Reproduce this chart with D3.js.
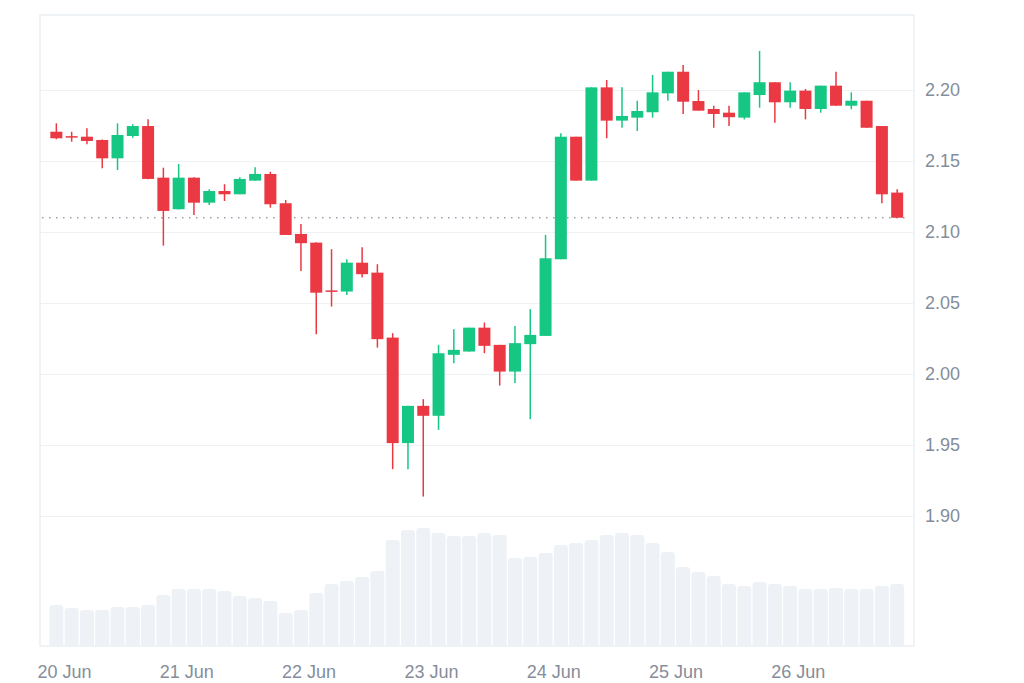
<!DOCTYPE html>
<html>
<head>
<meta charset="utf-8">
<script src="https://cdn.jsdelivr.net/npm/d3@7"></script>
<style>
    body { margin: 0; background: #ffffff; }
    #chart { width: 1024px; height: 683px; }
    text { font-family: "Liberation Sans", Arial, sans-serif; }
</style>
</head>
<body>
<div id="chart"></div>
<script>
// 3h candles, first one 19 Jun 22:30 UTC
var firstCandle = Date.UTC(2024, 5, 19, 22, 30);
var stepHours = 3;

var opens = [2.1703, 2.1672, 2.1668, 2.1645, 2.1516, 2.1673, 2.1743, 2.1380, 2.1158, 2.1380,
    2.1204, 2.1286, 2.1263, 2.1359, 2.1406, 2.1200, 2.0984, 2.0923, 2.0587, 2.0579,
    2.0782, 2.0712, 2.0255, 1.9513, 1.9775, 1.9705, 2.0134, 2.0157, 2.0325, 2.0204,
    2.0016, 2.0209, 2.0267, 2.0806, 2.1668, 2.1359, 2.2015, 2.1781, 2.1802, 2.1840,
    2.1973, 2.2125, 2.1919, 2.1863, 2.1837, 2.1802, 2.1961, 2.2051, 2.1910, 2.1992,
    2.1863, 2.2027, 2.1886, 2.1921, 2.1743, 2.1275];
var highs = [2.1762, 2.1703, 2.1727, 2.1648, 2.1762, 2.1755, 2.1790, 2.1450, 2.1476, 2.1382,
    2.1298, 2.1334, 2.1383, 2.1453, 2.1422, 2.1223, 2.1054, 2.0925, 2.0877, 2.0806,
    2.0891, 2.0771, 2.0286, 1.9775, 1.9822, 2.0204, 2.0314, 2.0325, 2.0361, 2.0204,
    2.0337, 2.0455, 2.0977, 2.1692, 2.1668, 2.2015, 2.2067, 2.2015, 2.1921, 2.2102,
    2.2125, 2.2172, 2.1996, 2.1886, 2.1886, 2.1980, 2.2271, 2.2051, 2.2051, 2.2004,
    2.2027, 2.2125, 2.1980, 2.1921, 2.1743, 2.1298];
var lows = [2.1650, 2.1633, 2.1615, 2.1446, 2.1434, 2.1661, 2.1369, 2.0902, 2.1156, 2.1118,
    2.1188, 2.1216, 2.1263, 2.1359, 2.1169, 2.0977, 2.0724, 2.0279, 2.0473, 2.0555,
    2.0677, 2.0185, 1.9330, 1.9330, 1.9137, 1.9606, 2.0075, 2.0157, 2.0145, 1.9918,
    1.9935, 1.9682, 2.0267, 2.0806, 2.1359, 2.1359, 2.1657, 2.1731, 2.1708, 2.1802,
    2.1921, 2.1828, 2.1851, 2.1731, 2.1743, 2.1790, 2.1872, 2.1767, 2.1872, 2.1790,
    2.1837, 2.1886, 2.1861, 2.1731, 2.1200, 2.1098];
var closes = [2.1657, 2.1665, 2.1638, 2.1516, 2.1680, 2.1743, 2.1371, 2.1146, 2.1380, 2.1204,
    2.1286, 2.1263, 2.1371, 2.1406, 2.1193, 2.0977, 2.0919, 2.0571, 2.0582, 2.0782,
    2.0701, 2.0244, 1.9513, 1.9775, 1.9705, 2.0145, 2.0169, 2.0325, 2.0197, 2.0016,
    2.0216, 2.0274, 2.0813, 2.1668, 2.1359, 2.2015, 2.1781, 2.1814, 2.1849, 2.1980,
    2.2125, 2.1914, 2.1851, 2.1828, 2.1805, 2.1980, 2.2051, 2.1910, 2.1992, 2.1863,
    2.2027, 2.1886, 2.1921, 2.1731, 2.1263, 2.1098];
// объём, условные единицы
var volumes = [41, 38, 36, 36, 39, 39, 41, 51, 57, 57,
    57, 55, 50, 48, 45, 33, 36, 53, 62, 65,
    69, 75, 106, 116, 118, 113, 110, 110, 113, 111,
    88, 89, 93, 101, 103, 106, 111, 113, 111, 103,
    94, 79, 74, 70, 62, 60, 64, 62, 60, 57,
    57, 58, 57, 57, 60, 62];

var priceTicks = [1.90, 1.95, 2.00, 2.05, 2.10, 2.15, 2.20];
var dayTicks = [20, 21, 22, 23, 24, 25, 26];
var dayLabels = ["20 Jun", "21 Jun", "22 Jun", "23 Jun", "24 Jun", "25 Jun", "26 Jun"];

(function () {
    var width = 1024,
        height = 683,
        plotLeft = 40,
        plotRight = 914,
        plotTop = 15,
        plotBottom = 646;

    var UP = "#16c784",
        DOWN = "#ea3943",
        GRID = "#eff2f5",
        TEXT = "#858d9b";

    var candles = opens.map(function (o, i) {
        return {
            t: new Date(firstCandle + i * stepHours * 3600 * 1000),
            o: o, h: highs[i], l: lows[i], c: closes[i], v: volumes[i]
        };
    });

    var x = d3.scaleUtc()
        .domain([new Date(Date.UTC(2024, 5, 20)), new Date(Date.UTC(2024, 5, 27))])
        .range([64, 64 + 7 * 122.3]);

    var y = d3.scaleLinear()
        .domain([1.8086, 2.2524])
        .range([plotBottom, plotTop]);

    var yVol = d3.scaleLinear()
        .domain([0, 118])
        .range([plotBottom, 528]);

    var svg = d3.select("#chart")
        .append("svg")
        .attr("width", width)
        .attr("height", height);

    // сетка
    svg.append("g")
        .selectAll("line")
        .data(priceTicks)
        .enter()
        .append("line")
        .attr("x1", plotLeft)
        .attr("x2", plotRight)
        .attr("y1", function (d) { return Math.round(y(d)) + 0.5; })
        .attr("y2", function (d) { return Math.round(y(d)) + 0.5; })
        .attr("stroke", GRID)
        .attr("stroke-width", 1.2);

    // рамка
    svg.append("rect")
        .attr("x", plotLeft)
        .attr("y", plotTop)
        .attr("width", plotRight - plotLeft)
        .attr("height", plotBottom - plotTop)
        .attr("fill", "none")
        .attr("stroke", "#eceff3")
        .attr("stroke-width", 1.5);

    // объём: столбики со скруглённым верхом
    var volW = 14, r = 3;
    function volPath(d) {
        var x0 = x(d.t) - volW / 2,
            x1 = x0 + volW,
            yt = yVol(d.v),
            p = d3.path();
        p.moveTo(x0, plotBottom);
        p.lineTo(x0, yt + r);
        p.arcTo(x0, yt, x0 + r, yt, r);
        p.lineTo(x1 - r, yt);
        p.arcTo(x1, yt, x1, yt + r, r);
        p.lineTo(x1, plotBottom);
        p.closePath();
        return p.toString();
    }

    svg.append("g")
        .selectAll("path")
        .data(candles)
        .enter()
        .append("path")
        .attr("d", volPath)
        .attr("fill", "#eef1f5");

    // пунктир последней цены
    var last = candles[candles.length - 1];
    svg.append("line")
        .attr("x1", plotLeft + 2)
        .attr("x2", plotRight - 4)
        .attr("y1", y(last.c))
        .attr("y2", y(last.c))
        .attr("stroke", "#9aa1ad")
        .attr("stroke-width", 1.5)
        .attr("stroke-dasharray", "1.5,5.5");

    // свечи
    var bodyW = 12;
    var candle = svg.append("g")
        .selectAll("g")
        .data(candles)
        .enter()
        .append("g")
        .attr("fill", function (d) { return d.c >= d.o ? UP : DOWN; })
        .attr("stroke", function (d) { return d.c >= d.o ? UP : DOWN; });

    candle.append("line")
        .attr("x1", function (d) { return x(d.t); })
        .attr("x2", function (d) { return x(d.t); })
        .attr("y1", function (d) { return y(d.h); })
        .attr("y2", function (d) { return y(d.l); })
        .attr("stroke-width", 1.5);

    candle.append("rect")
        .attr("x", function (d) { return x(d.t) - bodyW / 2; })
        .attr("width", bodyW)
        .attr("y", function (d) { return y(Math.max(d.o, d.c)); })
        .attr("height", function (d) { return Math.max(1.5, Math.abs(y(d.o) - y(d.c))); })
        .attr("stroke", "none");

    // оси
    var yAxis = svg.append("g")
        .attr("transform", "translate(" + plotRight + ",0)")
        .call(d3.axisRight(y)
            .tickValues(priceTicks)
            .tickSize(0)
            .tickPadding(11)
            .tickFormat(d3.format(".2f")));

    var xAxis = svg.append("g")
        .attr("transform", "translate(0," + plotBottom + ")")
        .call(d3.axisBottom(x)
            .tickValues(dayTicks.map(function (d) { return new Date(Date.UTC(2024, 5, d)); }))
            .tickSize(0)
            .tickPadding(19)
            .tickFormat(function (d, i) { return dayLabels[i]; }));

    [yAxis, xAxis].forEach(function (g) {
        g.select(".domain").remove();
        g.selectAll("text")
            .attr("fill", TEXT)
            .style("font-size", "18px")
            .style("font-family", "'Liberation Sans', Arial, sans-serif");
    });
}());
</script>
</body>
</html>
